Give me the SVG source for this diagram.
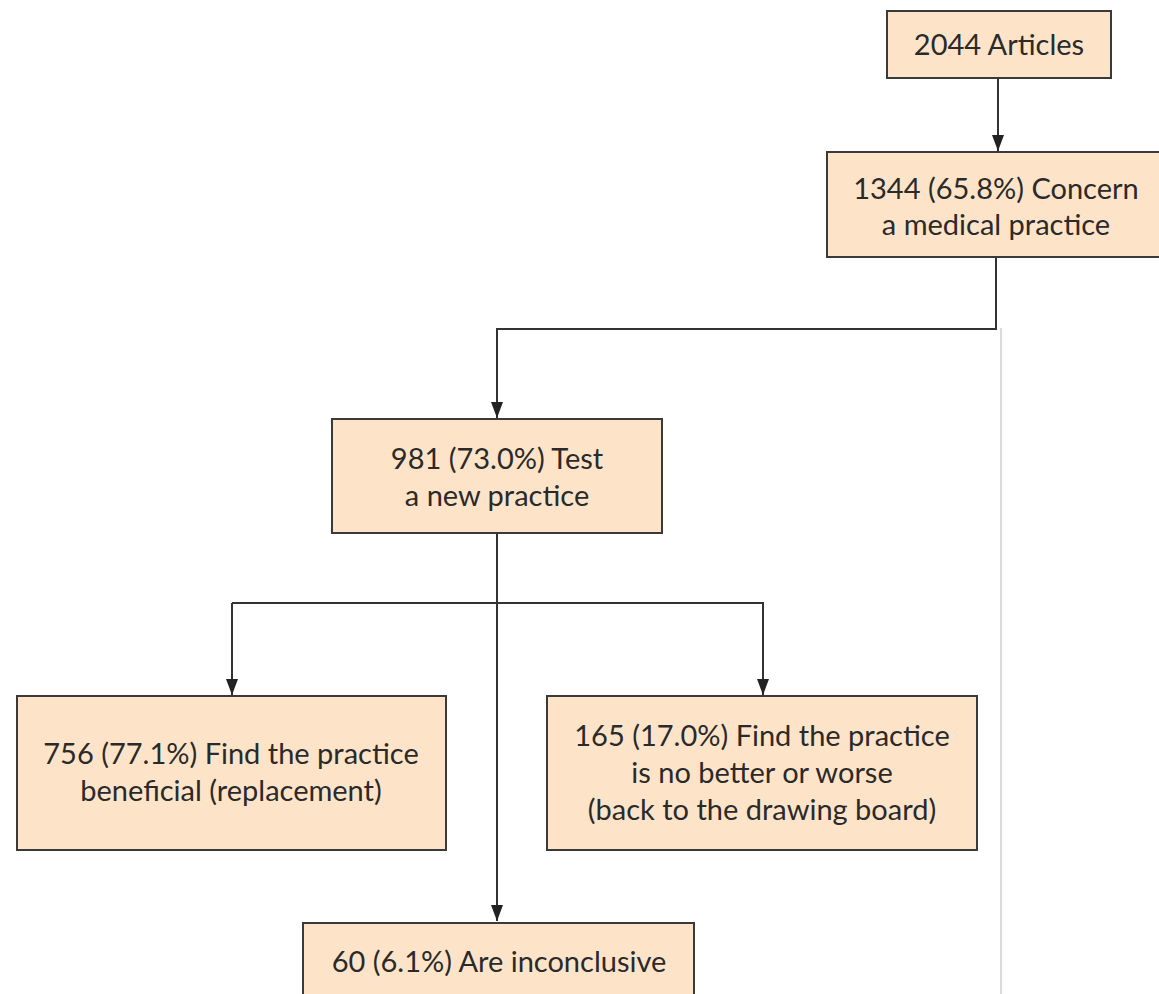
<svg xmlns="http://www.w3.org/2000/svg" width="1159" height="994" viewBox="0 0 1159 994">
<defs>
<style>
.box{fill:#FDE4C9;stroke:#3a3a3a;stroke-width:2}
.t{font-family:Lato,"Open Sans","Liberation Sans",sans-serif;font-size:29px;fill:#2a2a2a;text-anchor:middle}
.c{fill:none;stroke:#333;stroke-width:2}
</style>
<marker id="ah" viewBox="0 0 16 12" markerWidth="16" markerHeight="12" refX="16" refY="6" orient="auto" markerUnits="userSpaceOnUse">
<path d="M0,0 L16,6 L0,12 Z" fill="#222"/>
</marker>
</defs>
<rect width="1159" height="994" fill="#fff"/>
<line x1="1001" y1="328" x2="1001" y2="994" stroke="#cfcfcf" stroke-width="1.5"/>
<g id="connectors">
<path class="c" d="M998,78 V151" marker-end="url(#ah)"/>
<path class="c" d="M996,257 V329 H497 V418" marker-end="url(#ah)"/>
<path class="c" d="M497,533 V921" marker-end="url(#ah)"/>
<path class="c" d="M232,603 H763 V695" marker-end="url(#ah)"/>
<path class="c" d="M232,603 V695" marker-end="url(#ah)"/>
</g>
<g id="n1">
<rect class="box" x="887" y="11" width="224" height="67"/>
<text class="t" x="999" y="55">2044 Articles</text>
</g>
<g id="n2">
<rect class="box" x="827" y="152" width="340" height="105"/>
<text class="t" x="996" y="199">1344 (65.8%) Concern</text>
<text class="t" x="996" y="235">a medical practice</text>
</g>
<g id="n3">
<rect class="box" x="332" y="419" width="330" height="114"/>
<text class="t" x="497" y="469">981 (73.0%) Test</text>
<text class="t" x="497" y="506">a new practice</text>
</g>
<g id="n4">
<rect class="box" x="17" y="696" width="429" height="154"/>
<text class="t" x="231" y="764">756 (77.1%) Find the practice</text>
<text class="t" x="231" y="801">beneficial (replacement)</text>
</g>
<g id="n5">
<rect class="box" x="547" y="696" width="430" height="154"/>
<text class="t" x="762" y="746">165 (17.0%) Find the practice</text>
<text class="t" x="762" y="783">is no better or worse</text>
<text class="t" x="762" y="820">(back to the drawing board)</text>
</g>
<g id="n6">
<rect class="box" x="303" y="923" width="391" height="90"/>
<text class="t" x="499" y="972">60 (6.1%) Are inconclusive</text>
</g>
</svg>
